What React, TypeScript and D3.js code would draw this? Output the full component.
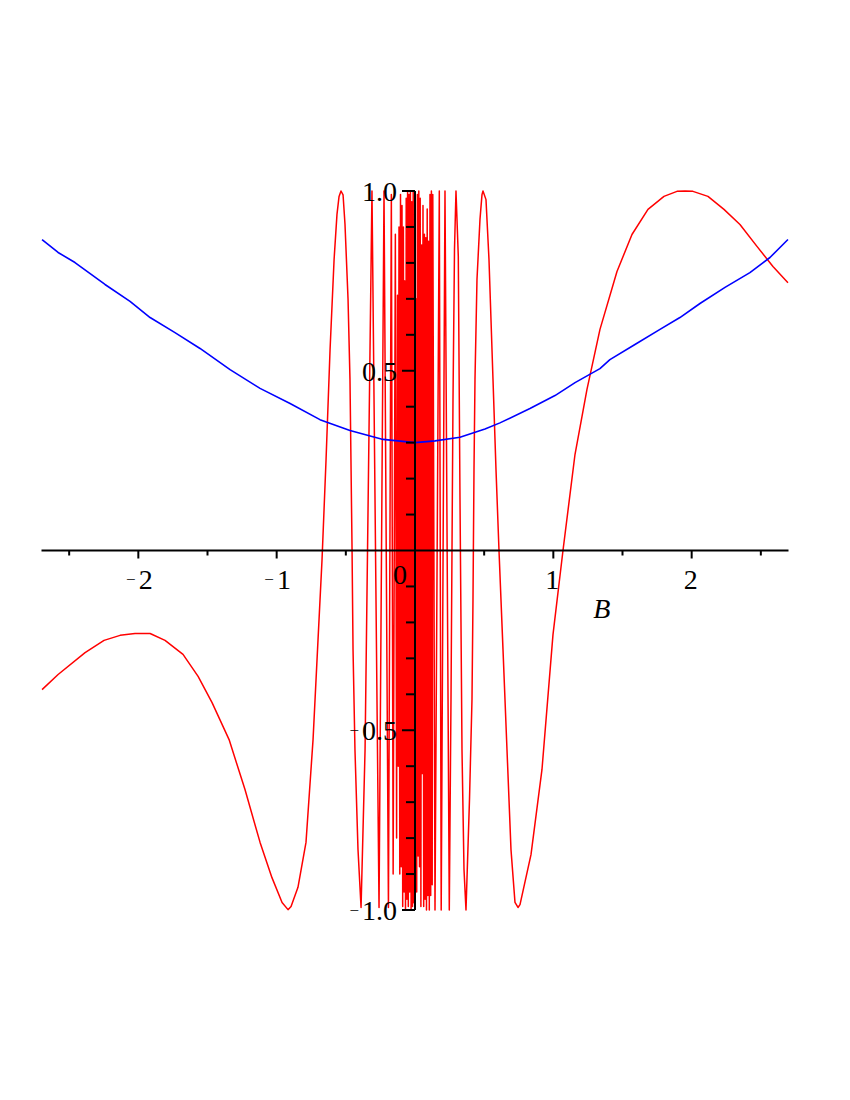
import React from "react";
import * as d3 from "d3";

// Blue curve (B, value)
const blueB = [-2.696, -2.58, -2.458, -2.241, -2.06, -1.915, -1.735, -1.554, -1.337, -1.12, -0.903, -0.687, -0.47, -0.231, 0, 0.145, 0.325, 0.506, 0.614, 0.831, 1.012, 1.157, 1.337, 1.409, 1.59, 1.771, 1.915, 2.06, 2.241, 2.421, 2.566, 2.696];
const blueY = [0.865, 0.829, 0.801, 0.74, 0.693, 0.648, 0.606, 0.562, 0.503, 0.451, 0.409, 0.364, 0.334, 0.309, 0.3, 0.305, 0.315, 0.338, 0.355, 0.395, 0.431, 0.467, 0.506, 0.531, 0.573, 0.615, 0.648, 0.687, 0.732, 0.773, 0.815, 0.865];

// Red curve (B, value)
const redB = [
  -2.696, -2.58, -2.385, -2.248, -2.132, -2.024, -1.915, -1.807, -1.677, -1.568, -1.467, -1.344, -1.229, -1.12, -1.034, -0.961, -0.918, -0.896, -0.846, -0.788, -0.737, -0.701, -0.672, -0.643, -0.614, -0.585, -0.564, -0.549, -0.535, -0.52, -0.506, -0.484, -0.47, -0.463, -0.455, -0.448, -0.434, -0.412, -0.39,
  -0.361, -0.311, -0.26, -0.224, -0.192, -0.171, -0.158, -0.142, -0.133,
  -0.1265, -0.1214, -0.1156, -0.1099, -0.1048, -0.0997, -0.094, -0.0889, -0.0838, -0.0788, -0.0737, -0.0687, -0.0636, -0.0585, -0.0535, -0.0484, -0.0434, -0.0383, -0.0332, -0.0282, -0.0231, -0.0181, -0.013, -0.008, -0.0029,
  0.0022, 0.0072, 0.0123, 0.0173, 0.0224, 0.0275, 0.0325, 0.0376, 0.0426, 0.0477, 0.0528, 0.0578, 0.0629, 0.0679, 0.073, 0.0781, 0.0831, 0.0882, 0.0932, 0.0983, 0.1034, 0.1084, 0.1135, 0.1185, 0.1243, 0.1286,
  0.1446, 0.1757, 0.1894, 0.2168, 0.2479, 0.2602, 0.2747, 0.2855, 0.2963, 0.313, 0.3253, 0.3397, 0.3542, 0.3686, 0.3939, 0.412, 0.4192, 0.4265, 0.4337, 0.4481, 0.4698, 0.4843, 0.4915, 0.5132, 0.5349, 0.5638, 0.5855, 0.6072, 0.6361, 0.665, 0.6939, 0.7228, 0.7445, 0.759, 0.8385, 0.918, 0.9975, 1.0698, 1.1565, 1.2432, 1.3372, 1.4601, 1.5685, 1.6841, 1.7998, 1.8937, 1.9516, 2.0094, 2.1178, 2.2335, 2.3491, 2.472, 2.5876, 2.6961,
];
const redY = [
  -0.387, -0.345, -0.284, -0.25, -0.236, -0.231, -0.231, -0.25, -0.289, -0.35, -0.423, -0.526, -0.665, -0.812, -0.91, -0.979, -0.999, -0.99, -0.937, -0.812, -0.526, -0.248, -0.025, 0.253, 0.559, 0.809, 0.935, 0.985, 1.0, 0.989, 0.907, 0.698, 0.476, 0.253, 0.0, -0.275, -0.554, -0.832, -0.993,
  -0.554, 1.0, -0.993, 1.0, -0.993, 0.99, -0.9, 0.88, -0.8,
  0.71, -0.6, 0.9, -0.9, 0.99, -0.88, 0.96, -0.99, 0.9, -0.95, 0.75, -1.0, 0.98, -0.97, 1.0, -0.99, 0.99, -0.95, 1.0, -1.0, 0.97, -0.99, 1.0, -0.98, 0.66,
  -0.55, 0.7, -0.95, 0.99, -0.85, 1.0, -0.88, 0.98, -0.99, 0.85, -0.62, 0.96, -0.99, 0.88, -0.97, 0.87, -1.0, 0.95, -0.96, 0.86, -1.0, 0.99, -0.96, 1.0, -0.93, 0.99,
  -1.0, 1.0, -1.0, 1.0, -1.0, -0.414, 0.42, 0.837, 1.0, 0.818, 0.142, -0.554, -0.887, -1.0, -0.693, -0.414, -0.136, 0.225, 0.476, 0.754, 0.921, 0.99, 1.0, 0.976, 0.809, 0.476, 0.225, 0.0, -0.275, -0.554, -0.832, -0.979, -0.993, -0.985, -0.846, -0.609, -0.234, 0.0, 0.267, 0.448, 0.615, 0.776, 0.879, 0.949, 0.985, 0.999, 1.0, 0.999, 0.985, 0.949, 0.907, 0.846, 0.79, 0.745,
];

const xTicks = [-2.5, -2, -1.5, -1, -0.5, 0.5, 1, 1.5, 2, 2.5];
const xLabels = [
  { v: -2, neg: true, t: "2" },
  { v: -1, neg: true, t: "1" },
  { v: 1, neg: false, t: "1" },
  { v: 2, neg: false, t: "2" },
];
const yTicks = [-1, -0.9, -0.8, -0.7, -0.6, -0.5, -0.4, -0.3, -0.2, -0.1, 0.1, 0.2, 0.3, 0.4, 0.5, 0.6, 0.7, 0.8, 0.9, 1];
const yLabels = [
  { v: 1, neg: false, t: "1.0" },
  { v: 0.5, neg: false, t: "0.5" },
  { v: -0.5, neg: true, t: "0.5" },
  { v: -1, neg: true, t: "1.0" },
];
const xAxisLabel = "B";

function Label(props: { x: number; y: number; anchor: string; neg: boolean; t: string; font: string }) {
  const { x, y, anchor, neg, t, font } = props;
  return (
    <text x={x} y={y} textAnchor={anchor} fontFamily={font} fontSize={28}>
      {neg ? (
        <>
          <tspan fontSize={17} dy={-4}>
            {"\u2212"}
          </tspan>
          <tspan dy={4} dx={3}>
            {t}
          </tspan>
        </>
      ) : (
        t
      )}
    </text>
  );
}

export default function App() {
  const x = d3.scaleLinear().domain([-2.7, 2.7]).range([41.5, 788.5]);
  const y = d3.scaleLinear().domain([-1, 1]).range([910, 191]);
  const line = d3
    .line<[number, number]>()
    .x((d) => x(d[0]))
    .y((d) => y(d[1]));
  const red = line(redB.map((b, i) => [b, redY[i]] as [number, number])) || "";
  const blue = line(blueB.map((b, i) => [b, blueY[i]] as [number, number])) || "";
  const x0 = x(0);
  const y0 = y(0);
  const font = "'Liberation Serif', 'Times New Roman', serif";
  const isMajor = (v: number) => Math.abs(v * 2 - Math.round(v * 2)) < 1e-6;
  return (
    <svg
      width={850}
      height={1100}
      style={{ position: "absolute", left: 0, top: 0, background: "#fff" }}
    >
      <path d={red} fill="none" stroke="#ff0000" strokeWidth={1.5} strokeLinejoin="round" />
      <path d={blue} fill="none" stroke="#0000ff" strokeWidth={1.6} strokeLinejoin="round" />
      {/* x axis */}
      <line x1={x(-2.7)} x2={x(2.7)} y1={y0} y2={y0} stroke="#000" strokeWidth={2} />
      {xTicks.map((v) => (
        <line
          key={"xt" + v}
          x1={x(v)}
          x2={x(v)}
          y1={y0}
          y2={y0 + (Number.isInteger(v) ? 8 : 5)}
          stroke="#000"
          strokeWidth={2}
        />
      ))}
      {/* y axis */}
      <line x1={x0} x2={x0} y1={y(1)} y2={y(-1)} stroke="#000" strokeWidth={2} />
      {yTicks.map((v) => (
        <line
          key={"yt" + v}
          x1={x0 - (isMajor(v) ? 13 : 9)}
          x2={x0}
          y1={y(v)}
          y2={y(v)}
          stroke="#000"
          strokeWidth={2}
        />
      ))}
      {xLabels.map((l) => (
        <Label
          key={"xl" + l.v}
          x={x(l.v) + (l.neg ? 1 : -1)}
          y={y0 + 38}
          anchor="middle"
          neg={l.neg}
          t={l.t}
          font={font}
        />
      ))}
      <text x={x0 - 15} y={y0 + 33} textAnchor="middle" fontFamily={font} fontSize={28}>
        0
      </text>
      {yLabels.map((l) => (
        <Label
          key={"yl" + l.v}
          x={x0 - 18}
          y={y(l.v) + 10}
          anchor="end"
          neg={l.neg}
          t={l.t}
          font={font}
        />
      ))}
      <text
        x={x(1.35)}
        y={y0 + 67}
        textAnchor="middle"
        fontFamily={font}
        fontStyle="italic"
        fontSize={28}
      >
        {xAxisLabel}
      </text>
    </svg>
  );
}
